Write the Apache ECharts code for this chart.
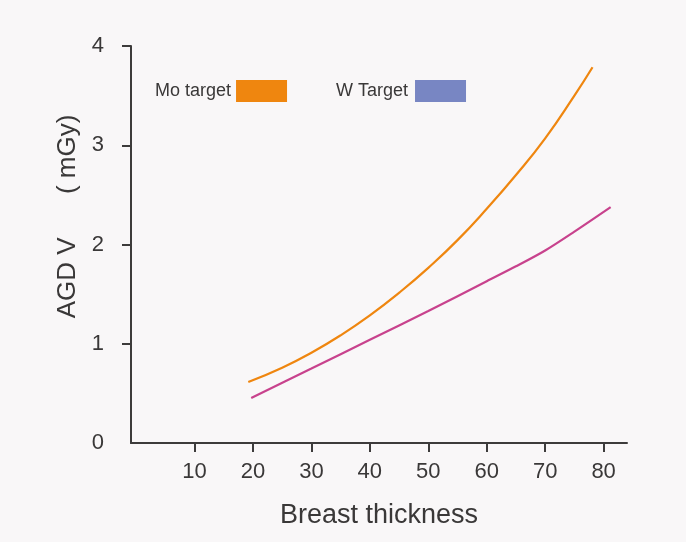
<!DOCTYPE html>
<html>
<head>
<meta charset="utf-8">
<script src="https://cdn.jsdelivr.net/npm/echarts@6/dist/echarts.min.js"></script>
<style>
html,body{margin:0;padding:0;background:#f9f7f8;}
#c{width:686px;height:542px;}
</style>
</head>
<body>
<div id="c"></div>
<script>
// Data
const xTickValues = [10, 20, 30, 40, 50, 60, 70, 80];
const yTickValues = [0, 1, 2, 3, 4];
const moThickness = [19.2, 25, 30, 35, 40, 45, 50, 55, 60, 65, 70, 75, 78.1];
const moAGD       = [0.614, 0.758, 0.909, 1.085, 1.286, 1.513, 1.765, 2.044, 2.36, 2.70, 3.07, 3.50, 3.786];
const wThickness  = [19.7, 30, 40, 50, 60, 65, 70, 75, 81.2];
const wAGD        = [0.453, 0.75, 1.04, 1.33, 1.63, 1.78, 1.94, 2.13, 2.377];
const seriesNames = ['Mo target', 'W Target'];

const font = 'Liberation Sans, Arial, sans-serif';
const axisColor = '#3d3b3b';
const textColor = '#3a3838';

const chart = echarts.init(document.getElementById('c'), null, {renderer: 'canvas'});
chart.setOption({
  backgroundColor: '#f9f7f8',
  animation: false,
  grid: {left: 131, right: 59, top: 46, bottom: 99, containLabel: false},
  legend: [
    {
      left: 155, top: 80, padding: 0, align: 'right', itemWidth: 51, itemHeight: 22,
      icon: 'rect',
      textStyle: {fontFamily: font, fontSize: 18, color: textColor},
      data: [{name: seriesNames[0], itemStyle: {color: '#ef860f'}}]
    },
    {
      left: 336, top: 80, padding: 0, align: 'right', itemWidth: 51, itemHeight: 22,
      icon: 'rect',
      textStyle: {fontFamily: font, fontSize: 18, color: textColor, padding: [0, 2, 0, 0]},
      data: [{name: seriesNames[1], itemStyle: {color: '#7886c3'}}]
    }
  ],
  xAxis: {
    type: 'value', min: -0.87, max: 84,
    splitLine: {show: false},
    axisLine: {show: true, lineStyle: {color: axisColor, width: 2}},
    axisTick: {show: true, length: 9, lineStyle: {color: axisColor, width: 2}, customValues: xTickValues},
    axisLabel: {customValues: xTickValues, margin: 18, fontFamily: font, fontSize: 22, color: textColor},
    name: 'Breast thickness', nameLocation: 'middle', nameGap: 59,
    nameTextStyle: {fontFamily: font, fontSize: 27, color: textColor}
  },
  yAxis: {
    type: 'value', min: 0, max: 4,
    splitLine: {show: false},
    axisLine: {show: true, onZero: false, lineStyle: {color: axisColor, width: 2}},
    axisTick: {show: true, length: 9, lineStyle: {color: axisColor, width: 2}, customValues: [1, 2, 3, 4]},
    axisLabel: {customValues: yTickValues, margin: 27, fontFamily: font, fontSize: 22, color: textColor},
    name: 'AGD V      ( mGy)', nameLocation: 'middle', nameGap: 48,
    nameTextStyle: {fontFamily: font, fontSize: 26, color: textColor, padding: [0, 0, 0, 56]}
  },
  series: [
    {
      name: seriesNames[0], type: 'line', smooth: 0.5, showSymbol: false,
      itemStyle: {color: '#ef860f'},
      lineStyle: {color: '#ef860f', width: 2.2},
      data: moThickness.map((x, i) => [x, moAGD[i]])
    },
    {
      name: seriesNames[1], type: 'line', smooth: 0.3, showSymbol: false,
      itemStyle: {color: '#7886c3'},
      lineStyle: {color: '#c8428d', width: 2.2},
      data: wThickness.map((x, i) => [x, wAGD[i]])
    }
  ]
});
</script>
</body>
</html>
